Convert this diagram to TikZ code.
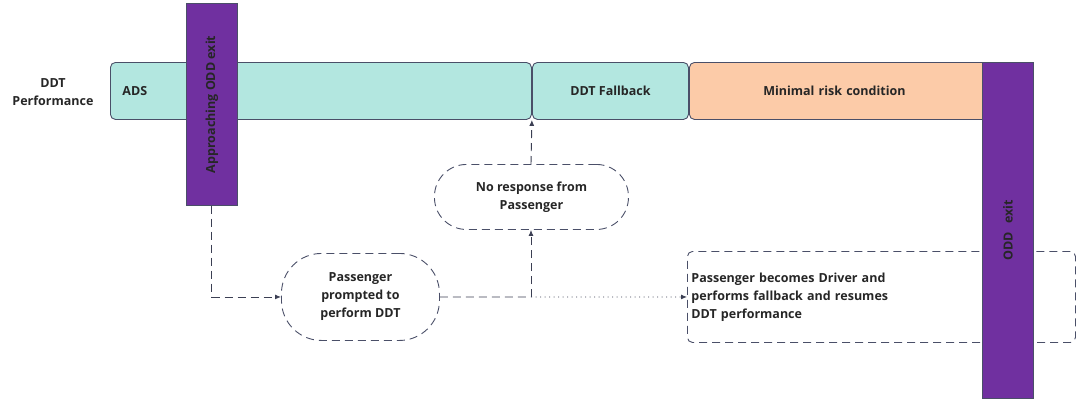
\documentclass[tikz,border=0pt]{standalone}
\usepackage{fontspec}
\setmainfont{Open Sans}
\usetikzlibrary{arrows.meta,positioning}
\definecolor{teal}{HTML}{B3E7E0}
\definecolor{peach}{HTML}{FCCBA8}
\definecolor{purp}{HTML}{7030A0}
\definecolor{edge}{HTML}{4A4F68}
\tikzset{
  bar/.style={draw=edge, line width=0.9pt, rounded corners=5pt, minimum height=57pt, inner sep=0pt, font=\bfseries\fontsize{12.5}{15}\selectfont, text=black!85},
  pbar/.style={draw=edge, fill=purp, line width=0.7pt, minimum width=51pt, inner sep=0pt},
  ptext/.style={rotate=90, font=\bfseries\fontsize{12.5}{15}\selectfont, text=black!85},
  dbox/.style={draw=edge, line width=0.9pt, dash pattern=on 8pt off 5pt, inner sep=0pt, font=\bfseries\fontsize{12.5}{18}\selectfont, text=black!85, align=center},
  conn/.style={draw=edge!80!black, line width=0.9pt, dash pattern=on 8pt off 5pt},
  dotconn/.style={draw=edge!80!black, line width=0.9pt, dash pattern=on 1pt off 3.5pt},
  tip/.style={-{Latex[length=6pt,width=5pt]}},
}
\begin{document}
\begin{tikzpicture}[x=1pt,y=-1pt]
\useasboundingbox (0,0) rectangle (1080,405);
% bars
\node[bar, fill=teal, minimum width=421pt, anchor=north west, text width=397pt, align=left] (ads) at (110,62) {ADS};
\node[bar, fill=teal, minimum width=156pt, anchor=north west] (fb) at (532,62) {DDT Fallback};
\node[bar, fill=peach, minimum width=300pt, anchor=north west, text width=290pt, align=center] (mrc) at (689,62) {\hspace*{-10pt}Minimal risk condition};
\node[font=\bfseries\fontsize{12.5}{18}\selectfont, text=black!85, align=center] (lbl) at (53,92) {DDT\\Performance};
% approaching bar
\node[pbar, minimum height=202pt, anchor=north west] (app) at (186,3) {};
\node[ptext] at (app.center) {Approaching ODD exit};
% dashed nodes
\node[dbox, rounded corners=32pt, minimum width=194pt, minimum height=65pt, anchor=north west] (nr) at (434,164) {No response from\\Passenger};
\node[dbox, rounded corners=40pt, minimum width=158pt, minimum height=87pt, anchor=north west] (pp) at (281,253) {Passenger\\prompted to\\perform DDT};
\node[dbox, rounded corners=5pt, minimum width=386pt, minimum height=91pt, anchor=north west, text width=380pt, align=left, inner xsep=4pt] (pd) at (687,251) {Passenger becomes Driver and\\performs fallback and resumes\\DDT performance};
% ODD exit bar
\node[pbar, minimum height=336pt, anchor=north west] (odd) at (982,62) {};
\node[ptext] at (odd.center) {ODD\hspace{5pt} exit};
% connectors
\coordinate (j) at (531,297);
\draw[conn, tip] (app.south) |- (pp.west);
\draw[conn] (pp.east) -- (j);
\draw[conn, tip] (j) -- (nr.south -| j);
\draw[conn, tip] (nr.north -| j) -- (ads.south east);
\draw[dotconn, tip] (j) -- (pd.west);
\end{tikzpicture}
\end{document}
